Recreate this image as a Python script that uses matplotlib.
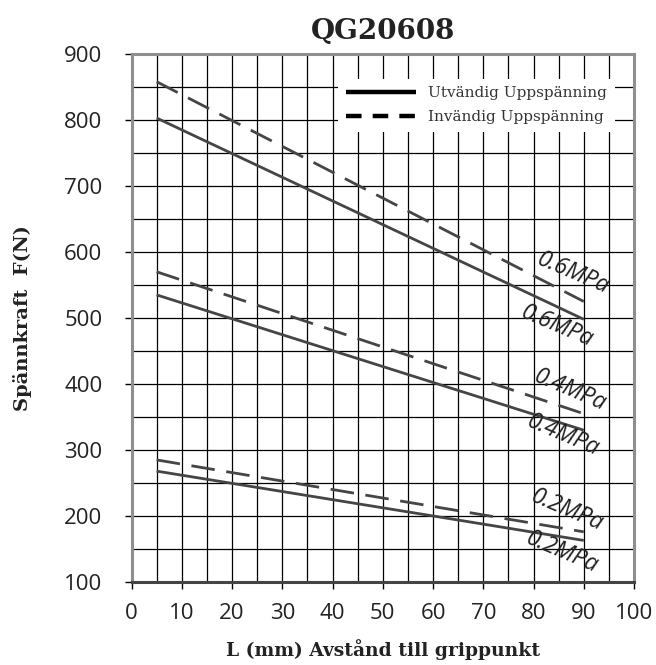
import matplotlib
matplotlib.use("Agg")
import matplotlib.pyplot as plt
from matplotlib.lines import Line2D
from matplotlib.ticker import MultipleLocator

# distance to grip point (mm)
L = [5, 90]

# clamping force (N), external (solid) and internal (dashed)
utv_06 = [803, 498]
utv_04 = [535, 330]
utv_02 = [268, 163]
inv_06 = [858, 525]
inv_04 = [570, 355]
inv_02 = [285, 176]

# pressure labels: (text, x, y)
labels = [
    ("0.6MPa", 87.9, 567),
    ("0.6MPa", 84.7, 488),
    ("0.4MPa", 87.3, 390),
    ("0.4MPa", 85.9, 322),
    ("0.2MPa", 86.7, 209),
    ("0.2MPa", 85.7, 145),
]

line_col = "#454545"

fig = plt.figure(figsize=(6.56, 6.65), dpi=100)
ax = fig.add_axes([0.2005, 0.1248, 0.766, 0.794])

for y in [utv_06, utv_04, utv_02]:
    ax.plot(L, y, color=line_col, lw=2.0, solid_capstyle="butt", zorder=3)
for y in [inv_06, inv_04, inv_02]:
    ax.plot(L, y, color=line_col, lw=2.0, dashes=(8.5, 4.2), zorder=3)

for txt, x, y in labels:
    ax.text(x, y, txt, fontfamily="Open Sans", fontstyle="italic", fontsize=16.5,
            rotation=-23, rotation_mode="anchor", ha="center", va="center",
            color="#222222", zorder=4)

ax.set_xlim(0, 100)
ax.set_ylim(100, 900)
ax.xaxis.set_major_locator(MultipleLocator(10))
ax.xaxis.set_minor_locator(MultipleLocator(5))
ax.yaxis.set_major_locator(MultipleLocator(100))
ax.yaxis.set_minor_locator(MultipleLocator(50))
ax.grid(which="both", color="black", lw=0.9, zorder=1)
ax.set_axisbelow(True)

ax.tick_params(which="major", length=5, width=1, color="black", labelsize=16)
ax.tick_params(axis="x", pad=10)
ax.tick_params(axis="y", pad=16)
ax.tick_params(which="minor", length=0)
for lab in ax.get_xticklabels() + ax.get_yticklabels():
    lab.set_fontfamily("Open Sans")
    lab.set_color("#222222")

for side in ["left", "right", "top"]:
    ax.spines[side].set_color("#8f8f8f")
    ax.spines[side].set_linewidth(2.2)
ax.spines["bottom"].set_color("#444444")
ax.spines["bottom"].set_linewidth(2.2)

ax.set_title("QG20608", fontfamily="DejaVu Serif", fontweight="bold",
             fontsize=20, pad=11, color="#222222")
ax.set_xlabel("L (mm) Avstånd till grippunkt", fontfamily="DejaVu Serif",
              fontweight="bold", fontsize=13.5, labelpad=11, color="#222222")
ax.set_ylabel("Spännkraft  F(N)", fontfamily="DejaVu Serif",
              fontweight="bold", fontsize=14, labelpad=23, color="#222222")

handles = [
    Line2D([], [], color="black", lw=3.2, solid_capstyle="butt"),
    Line2D([], [], color="black", lw=3.2, dashes=(3.5, 2.5)),
]
leg = ax.legend(handles, ["Utvändig Uppspänning", "Invändig Uppspänning"],
                loc="upper right", bbox_to_anchor=(0.962, 0.953),
                borderaxespad=0, frameon=True, fancybox=False,
                handlelength=4.6, handletextpad=0.8, labelspacing=0.65,
                borderpad=0.5,
                prop={"family": "DejaVu Serif", "size": 11})
leg.get_frame().set_facecolor("white")
leg.get_frame().set_edgecolor("none")
leg.get_frame().set_alpha(1)
leg.set_zorder(5)
for t in leg.get_texts():
    t.set_color("#333333")

fig.savefig("out.png", dpi=100)
